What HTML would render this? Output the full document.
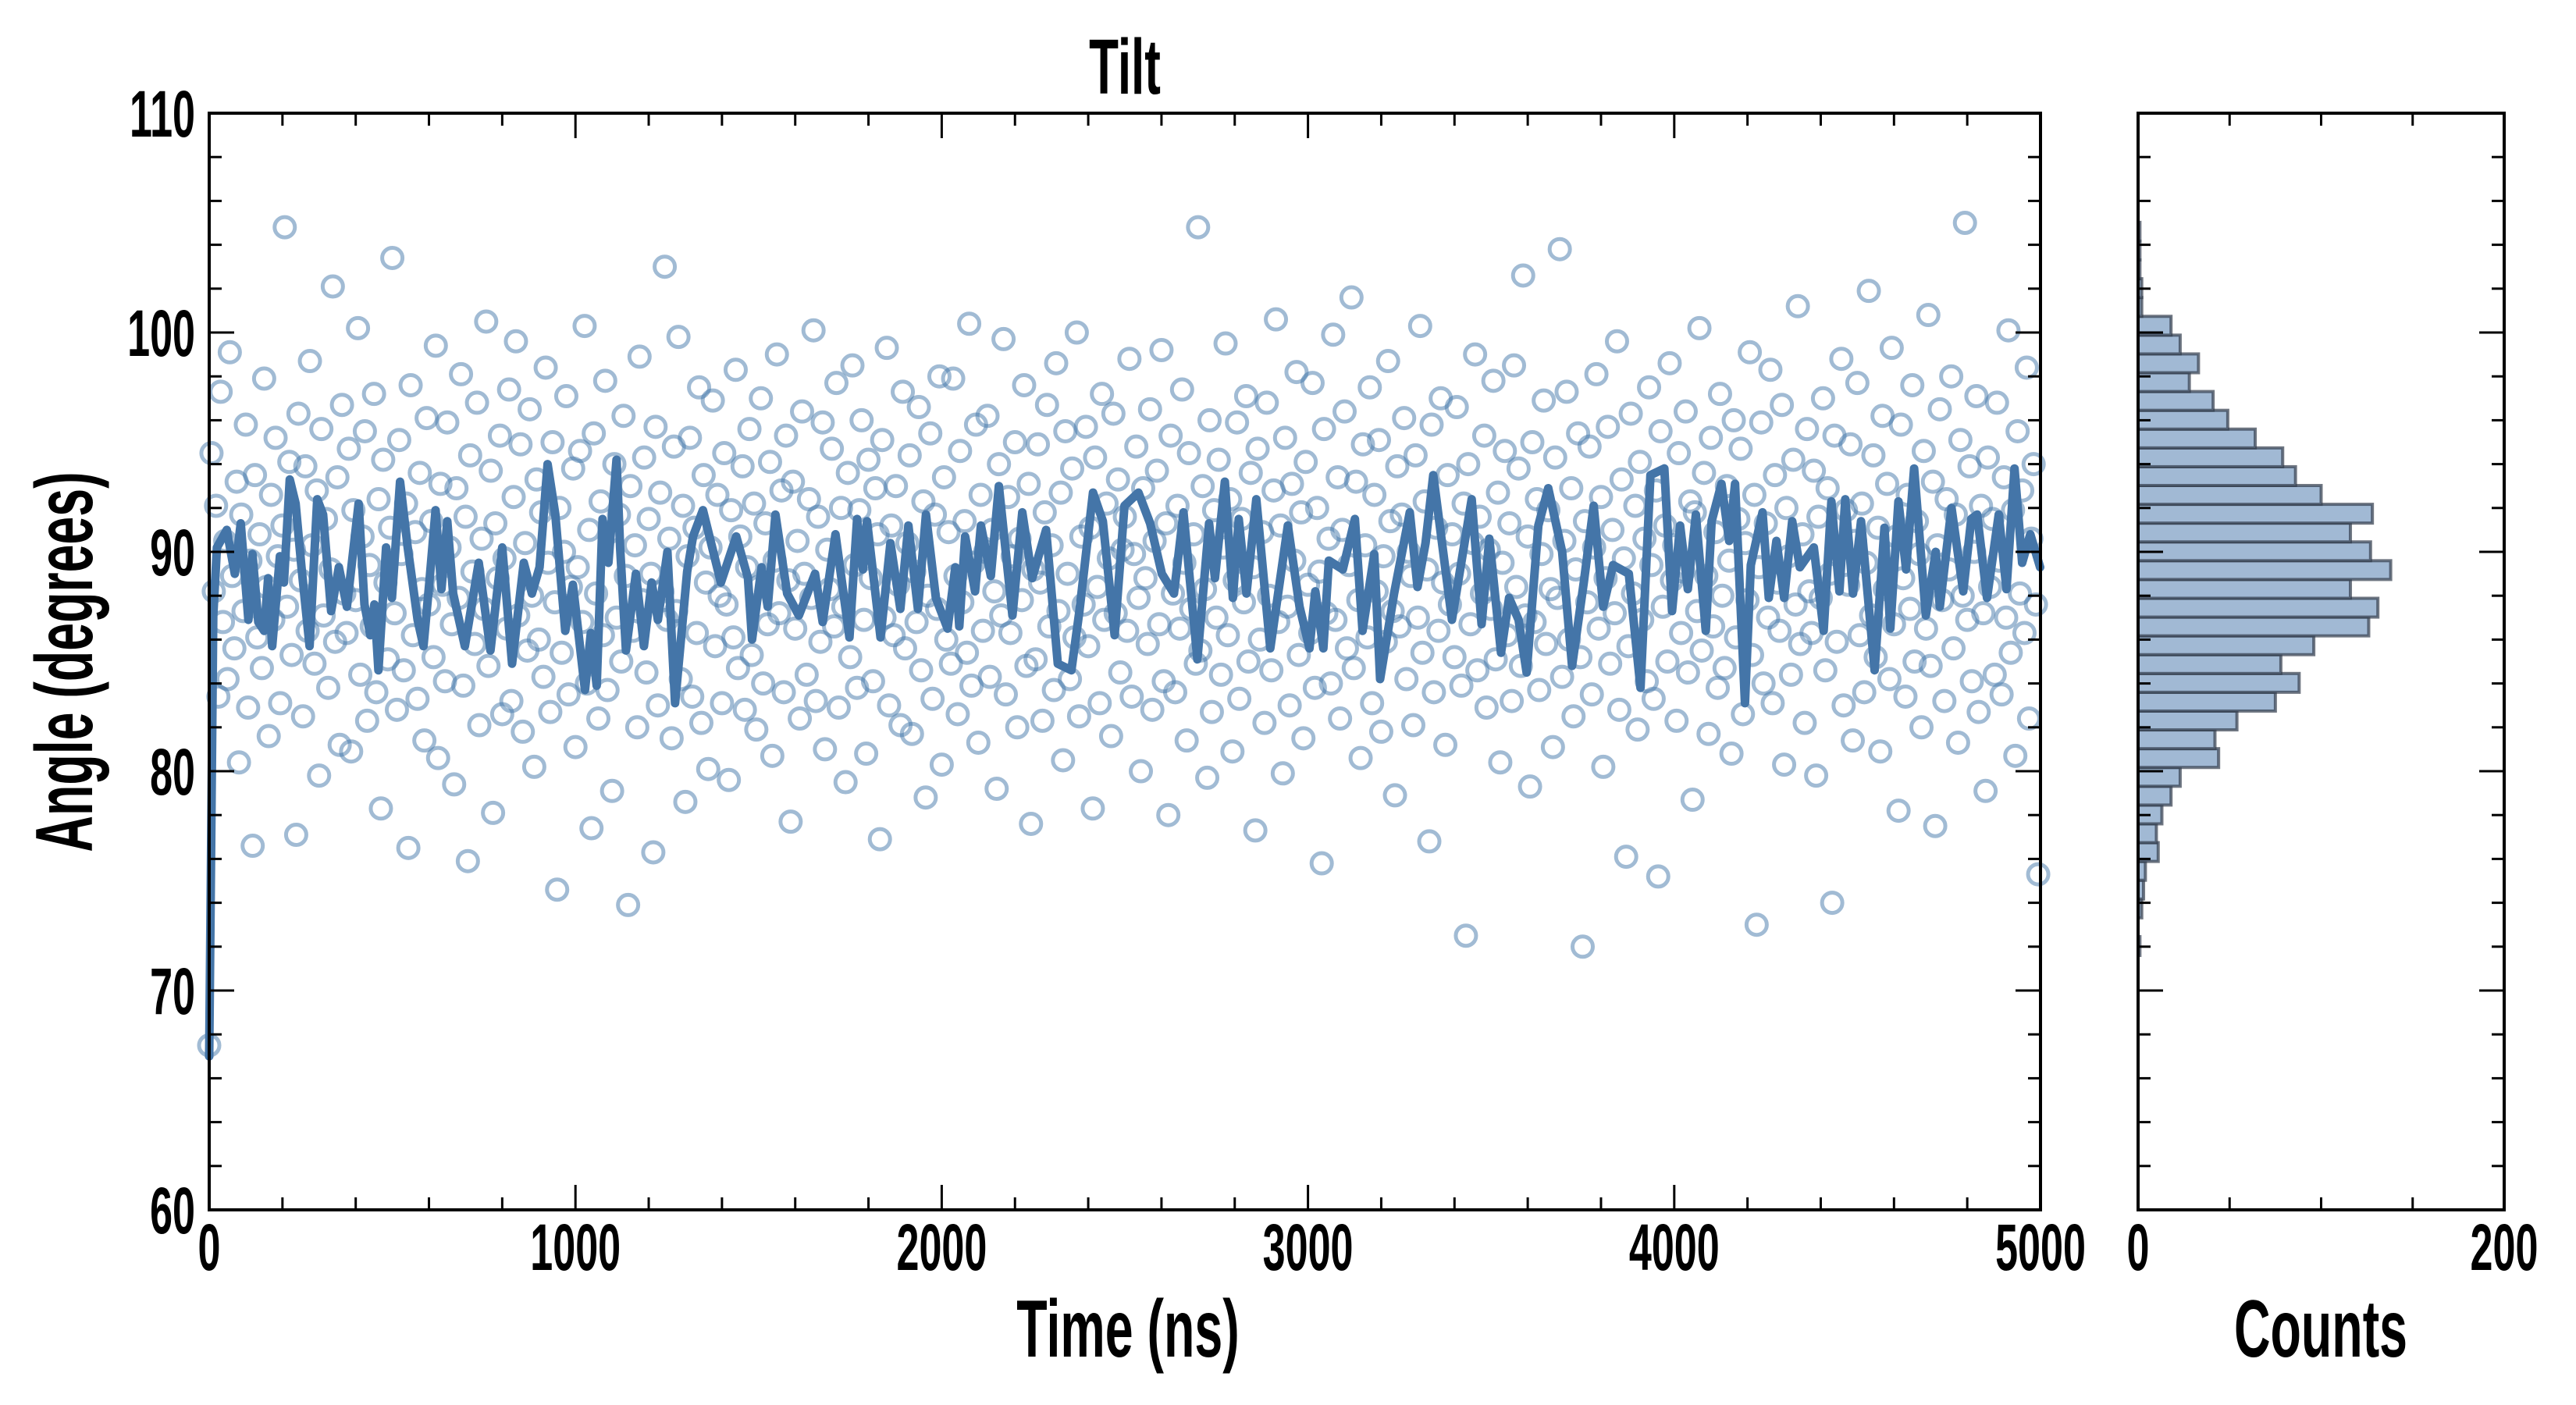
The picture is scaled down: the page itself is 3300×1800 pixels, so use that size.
<!DOCTYPE html>
<html><head><meta charset="utf-8"><style>
html,body{margin:0;padding:0;background:#fff;}
svg{display:block;}
text{font-family:"Liberation Sans","DejaVu Sans",sans-serif;font-weight:bold;fill:#000;}
</style></head><body>
<svg id="chart" xmlns="http://www.w3.org/2000/svg" width="3300" height="1800" viewBox="0 0 3300 1800">
<rect width="3300" height="1800" fill="#fff"/>
<g id="scatter"></g>
<g id="line"></g>
<g id="hist"></g>
<g id="axes"></g>
<text x="0" y="0" font-size="100" text-anchor="middle" transform="translate(1441,120) scale(0.62,1)">Tilt</text>
<text x="0" y="0" font-size="104" text-anchor="middle" transform="translate(1445,1738) scale(0.62,1)">Time (ns)</text>
<text x="0" y="0" font-size="104" text-anchor="middle" transform="translate(2973,1738) scale(0.62,1)">Counts</text>
<text x="0" y="0" font-size="104" text-anchor="middle" transform="translate(118,848) rotate(-90) scale(0.62,1)">Angle (degrees)</text>
</svg>
<script>
const scatterAngles=[
67.5,94.5,88.2,92.1,83.4,97.3,86.8,90.5,84.2,99.1,88.9,85.6,93.2,80.4,91.7,87.3,95.8,82.9,89.6,76.6,
93.5,86.1,90.8,84.7,97.9,88.4,81.6,92.6,86.9,95.2,89.8,83.1,91.2,104.8,87.5,94.1,85.3,90.1,77.1,96.3,
88.7,82.5,93.9,86.4,98.7,90.3,84.9,92.8,79.8,95.6,87.1,91.5,83.8,89.2,102.1,85.9,93.4,81.2,96.7,88.1,
86.3,94.7,80.9,91.9,87.8,100.2,84.4,90.7,95.5,82.3,89.4,86.6,97.2,83.6,92.4,78.3,94.2,88.6,85.1,91.1,
103.4,87.2,82.8,95.1,89.9,84.6,92.2,76.5,97.6,86.2,90.9,83.3,93.6,88.3,81.4,96.1,87.6,91.4,85.2,99.4,
80.6,93.1,88.5,84.1,95.9,90.2,86.7,79.4,92.9,87.9,98.1,83.9,91.6,75.9,94.4,89.1,85.8,96.8,82.1,90.6,
87.4,100.5,84.8,93.7,78.1,91.3,88.8,95.3,82.6,89.7,86.5,97.4,83.2,92.5,99.6,87.1,94.9,81.8,90.4,85.5,
96.5,88.0,80.2,93.3,86.0,91.8,84.3,98.4,89.5,82.7,95.0,87.7,74.6,92.0,85.4,90.0,97.1,83.5,88.4,93.8,
81.1,89.3,94.6,86.8,100.3,84.0,91.0,77.4,95.4,88.1,82.4,92.3,86.2,97.8,83.7,90.9,79.1,94.0,87.0,91.7,
85.0,96.2,88.9,73.9,93.0,86.4,90.3,82.0,98.9,87.8,94.3,84.5,91.5,89.0,76.3,95.7,83.0,92.7,88.2,103.0,
86.9,90.6,81.5,94.8,87.3,99.8,84.2,92.1,78.6,89.8,95.2,83.4,91.1,86.3,97.5,82.2,93.5,88.6,80.1,90.2,
96.9,85.7,92.6,88.0,83.1,94.5,87.6,79.6,91.9,86.1,98.3,84.7,90.7,93.9,82.8,89.3,95.6,85.3,92.2,81.9,
88.4,97.0,84.0,91.3,86.7,94.1,80.7,89.6,99.0,87.2,92.8,83.6,95.3,88.7,77.7,93.2,86.5,90.5,82.4,96.4,
89.0,84.4,92.4,87.9,100.1,83.2,91.6,85.9,95.9,81.0,90.1,88.3,94.7,86.6,97.7,82.9,92.0,87.5,79.5,93.6,
85.2,98.5,89.4,83.8,91.9,96.0,86.9,80.8,94.2,88.8,84.1,92.9,90.8,76.9,95.1,87.0,99.3,83.0,91.2,86.2,
93.0,88.5,82.1,97.3,85.6,90.4,94.4,81.7,89.1,86.8,96.6,84.6,92.3,78.8,88.0,95.4,83.3,91.7,87.4,98.0,
80.3,93.4,86.0,90.9,84.9,97.9,88.9,82.6,94.6,87.7,91.4,85.4,100.4,83.9,89.5,95.8,81.3,92.6,86.4,90.0,
96.2,84.3,91.0,88.2,79.2,94.0,87.1,99.7,83.5,92.5,86.3,89.8,95.0,82.0,90.6,87.8,97.6,84.8,93.1,77.6,
89.2,85.1,94.9,88.6,82.3,91.8,96.7,86.6,90.3,83.7,98.6,87.3,92.7,80.5,95.5,89.0,84.2,93.8,86.1,100.0,
82.5,90.7,87.6,95.7,85.7,91.1,78.3,94.3,88.4,83.1,97.2,86.9,92.2,89.7,81.6,96.3,87.2,93.3,84.5,90.1,
91.6,86.4,98.8,83.4,89.9,94.8,87.9,80.0,92.9,88.8,85.8,96.5,82.8,90.5,93.7,86.7,99.2,84.1,91.3,78.0,
95.3,88.1,83.6,92.1,86.5,97.4,89.5,81.4,94.5,87.4,90.8,84.9,104.8,85.5,93.0,88.3,79.7,96.0,82.7,91.9,
87.0,94.2,84.4,90.2,99.5,86.2,92.4,80.9,88.7,95.9,83.3,91.5,87.7,97.1,85.0,93.6,89.3,77.3,94.7,86.0,
90.9,82.2,96.8,88.0,84.6,92.8,100.6,86.8,91.2,79.9,95.2,87.5,83.0,93.1,89.6,98.2,85.3,91.8,81.5,94.1,
88.5,86.3,97.7,83.8,92.0,89.1,75.8,95.6,87.2,90.6,84.0,99.9,86.9,93.4,82.4,91.0,96.4,85.6,89.4,101.6,
84.7,93.2,87.8,80.6,94.9,90.3,86.1,97.5,83.1,92.6,88.2,95.1,81.8,89.8,85.9,98.7,91.4,87.3,78.9,93.9,
86.6,91.7,96.1,84.2,90.0,88.9,82.1,94.4,87.0,100.3,85.4,92.3,89.2,76.8,95.8,83.6,91.1,86.4,97.0,88.6,
81.2,93.5,87.6,90.8,85.2,96.6,89.0,83.9,92.2,72.5,94.0,86.7,90.4,99.0,84.6,91.6,88.1,95.3,82.9,90.1,
87.4,97.8,85.1,92.7,80.4,89.5,94.6,86.2,91.3,83.2,98.5,88.4,93.8,84.8,102.6,87.1,90.7,79.3,95.0,86.8,
92.4,83.7,89.9,96.9,85.8,91.9,88.3,81.1,94.3,87.9,103.8,84.3,90.5,97.3,86.0,92.9,82.5,89.2,95.4,85.2,
72.0,91.4,87.7,94.8,83.5,90.2,98.1,86.5,92.5,80.2,88.8,95.7,84.9,91.0,87.2,99.6,82.8,93.3,89.7,76.1,
85.7,96.3,88.1,92.1,81.9,94.1,86.9,90.6,84.1,97.5,89.4,83.3,92.8,75.2,95.5,87.5,91.2,85.0,98.6,88.7,
90.3,82.3,94.5,86.3,89.1,96.4,84.5,92.3,78.7,91.8,87.3,100.2,85.5,93.6,88.9,81.7,95.2,86.6,90.9,83.8,
97.2,88.0,84.7,93.0,89.6,80.8,96.0,86.1,91.5,94.7,82.6,90.4,87.8,99.1,85.3,92.6,73.0,89.3,95.9,84.0,
91.3,87.0,98.3,83.1,93.5,88.6,86.4,96.7,80.3,92.0,89.8,84.4,94.2,87.6,101.2,85.8,90.8,82.2,95.6,88.2,
86.3,93.7,79.8,91.6,87.9,97.0,84.6,92.9,89.0,74.0,95.3,85.9,90.1,98.8,83.0,91.9,88.5,94.9,81.4,90.5,
97.7,86.2,92.2,83.6,89.5,101.9,87.1,94.4,85.2,91.1,80.9,96.2,88.3,93.1,84.2,99.3,86.7,90.7,78.2,95.8,
88.8,83.4,92.6,87.4,97.6,85.0,91.4,89.9,82.0,94.6,86.5,100.8,84.8,93.2,77.5,90.3,96.5,87.8,83.2,92.4,
89.2,98.0,85.6,91.7,81.3,95.1,88.0,105.0,86.9,93.9,84.1,90.0,97.1,82.7,92.1,87.2,79.1,94.3,88.4,91.5,
84.4,96.8,89.6,83.5,93.4,87.0,100.1,85.4,91.9,80.7,95.5,88.1,92.8,86.3,98.4,82.4,90.6,94.0,87.6,75.3];
const scatterDt=5000/800;
const lineTimes=[0,11,21,48,70,86,107,118,134,150,161,172,193,204,220,236,252,274,295,311,333,354,376,408,424,440,451,462,483,499,521,542,569,585,601,618,634,650,666,698,736,768,800,827,859,881,902,924,945,972,993,1026,1042,1058,1074,1090,1112,1122,1138,1165,1187,1208,1225,1251,1272,1305,1321,1348,1397,1439,1471,1482,1508,1525,1546,1578,1610,1654,1675,
1710,1748,1769,1785,1796,1833,1860,1887,1909,1935,1957,1984,2016,2037,2048,2064,2091,2107,2134,2156,2193,2220,2247,2285,2317,2354,2376,2413,2440,2472,2499,2537,2569,2601,2634,2660,2698,2730,2746,2773,2795,2811,2832,2859,2897,2945,2977,3004,3020,3042,3057,3095,3128,3149,3181,3197,3235,3278,3299,3321,3342,
3393,3447,3474,3495,3527,3549,3575,3597,3629,3656,3694,3721,3753,3780,3806,3833,3876,3908,3935,3973,3994,4016,4037,4059,4086,4102,4129,4150,4166,4193,4209,4241,4258,4279,4300,4322,4343,4381,4408,4429,4451,4467,4488,4510,4547,4574,4590,4612,4633,4655,4687,4714,4725,4757,4789,4811,4827,4854,4886,4907,4929,4950,4972,4999];
const lineAngles=[67,87.1,90.2,91.0,89.0,91.3,86.9,89.9,86.8,86.4,88.8,85.7,89.8,88.6,93.3,92.2,89.3,85.7,92.4,91.7,87.3,89.3,87.5,92.2,87.6,86.2,87.6,84.6,90.2,87.9,93.2,90.2,86.9,85.7,88.6,91.9,88.3,91.4,88.1,85.7,89.5,85.5,90.2,84.9,89.5,88.1,89.3,94.0,91.7,86.4,88.5,83.7,86.3,83.9,91.5,89.5,94.2,90.2,85.5,89.0,85.7,88.6,86.9,90.0,83.1,89.1,90.7,91.9,88.6,90.7,88.8,86.0,89.3,87.5,91.7,88.1,87.1,89.0,86.8,
90.8,86.1,91.5,89.2,91.4,86.1,90.4,87.4,91.2,87.4,91.7,87.9,86.5,89.3,86.6,90.7,88.2,91.2,88.9,93.0,87.1,91.8,88.8,91.0,84.9,84.6,87.3,92.7,91.4,86.2,92.1,92.7,91.3,89.0,88.1,91.8,85.1,91.3,88.8,93.2,87.9,91.5,88.1,92.4,85.6,91.2,87.5,85.6,88.2,85.6,89.6,89.2,91.5,86.4,89.9,84.2,88.1,91.8,88.4,90.4,93.5,
86.9,92.4,86.7,90.6,85.4,87.9,86.9,84.5,91.2,92.9,90.0,84.8,88.6,92.1,87.5,89.4,89.0,83.8,93.5,93.8,87.3,91.2,88.3,91.7,86.4,91.4,93.1,90.5,93.1,83.1,89.4,91.8,87.9,90.5,87.9,91.4,89.3,90.2,86.4,92.3,88.2,92.4,88.1,91.4,84.6,91.1,86.5,92.3,89.2,93.8,87.1,90.0,87.5,92.0,88.2,91.5,91.7,87.9,91.7,88.3,93.8,89.5,90.8,89.3];
const histBinStart=71.6;
const histBinWidth=0.857;
const histCounts=[1,0,2,3,4,11,10,13,18,23,44,42,54,75,88,78,96,126,131,116,138,127,116,128,100,86,79,64,49,41,28,33,23,18,2,2,1,1,1];
const xTicks=[0,1000,2000,3000,4000,5000];
const yTicks=[60,70,80,90,100,110];
const histTicks=[0,200];

const NS='http://www.w3.org/2000/svg';
const L=268,R=2614,T=145,B=1550,HL=2739,HR=3208;
const xs=t=>L+t/5000*(R-L);
const ys=a=>T+(110-a)/50*(B-T);
const hx=c=>HL+c/200*(HR-HL);
function mk(tag,attrs,parent){const e=document.createElementNS(NS,tag);for(const k in attrs)e.setAttribute(k,attrs[k]);parent.appendChild(e);return e;}

const sg=document.getElementById('scatter');
scatterAngles.forEach((a,i)=>{
  const c=mk('circle',{cx:xs(i*scatterDt),cy:ys(a),r:13,fill:'none',stroke:'rgba(68,119,170,0.5)','stroke-width':5},sg);
  
  
});
const lg=document.getElementById('line');
const pts=lineTimes.map((t,i)=>xs(t).toFixed(1)+','+ys(lineAngles[i]).toFixed(1)).join(' ');
const pl=mk('polyline',{points:pts,fill:'none',stroke:'#4475a8','stroke-width':11,'stroke-linejoin':'round','stroke-linecap':'round'},lg);



const hg=document.getElementById('hist');
histCounts.forEach((c,i)=>{
  const lo=histBinStart+i*histBinWidth,hi=lo+histBinWidth;
  const r=mk('rect',{x:HL,y:ys(hi),width:Math.max(hx(c)-HL,0.01),height:ys(lo)-ys(hi),fill:'#a1b9d4',stroke:'rgba(50,60,75,0.7)','stroke-width':4},hg);
  
  
});

const ag=document.getElementById('axes');
function frame(x0,x1,name){
  const f=mk('rect',{x:x0,y:T,width:x1-x0,height:B-T,fill:'none',stroke:'#000','stroke-width':4},ag);
  
  
}
frame(L,R,'main-plot-frame');frame(HL,HR,'histogram-frame');
function tick(x1,y1,x2,y2){mk('line',{x1:x1,y1:y1,x2:x2,y2:y2,stroke:'#000','stroke-width':3},ag);}
for(let t=0;t<=5000;t+=200){const len=t%1000===0?32:16;const x=xs(t);tick(x,B,x,B-len);tick(x,T,x,T+len);}
for(let a=60;a<=110;a+=2){const len=a%10===0?32:16;const y=ys(a);tick(L,y,L+len,y);tick(R,y,R-len,y);tick(HL,y,HL+len,y);tick(HR,y,HR-len,y);}
for(let c=0;c<=200;c+=50){const len=c%200===0?32:16;const x=hx(c);tick(x,B,x,B-len);tick(x,T,x,T+len);}
function label(x,y,anchor,str){const e=mk('text',{x:0,y:0,'font-size':84,'text-anchor':anchor,transform:'translate('+x+','+y+') scale(0.62,1)'},ag);e.textContent=str;return e;}
xTicks.forEach(t=>{const e=label(xs(t),1627,'middle',t);
  
  });
yTicks.forEach(a=>{const e=label(250,ys(a)+30,'end',a);
  
  });
histTicks.forEach(c=>{const e=label(hx(c),1627,'middle',c);
  
  });
</script>
</body></html>
